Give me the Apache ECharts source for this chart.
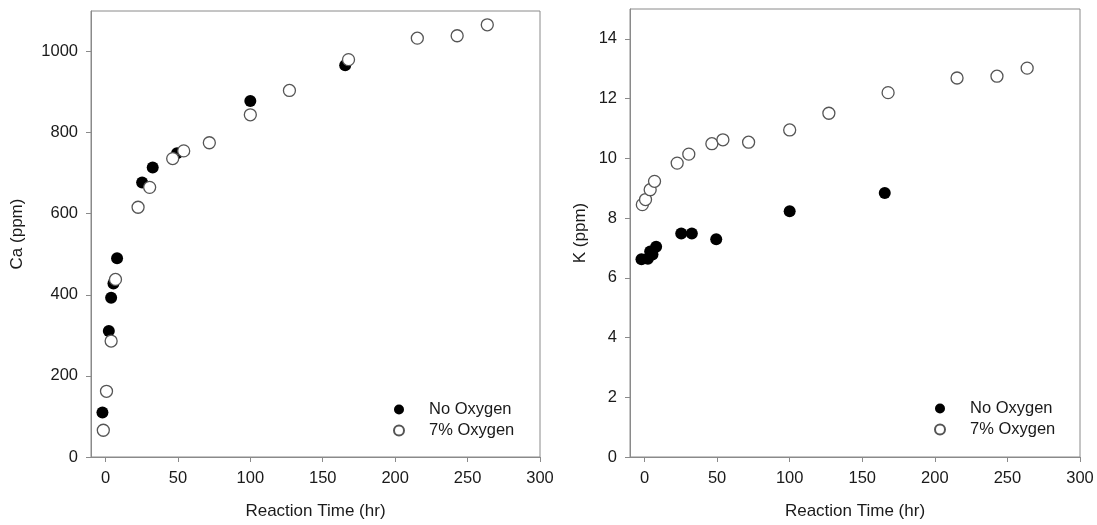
<!DOCTYPE html>
<html>
<head>
<meta charset="utf-8">
<script src="https://cdn.jsdelivr.net/npm/echarts@6/dist/echarts.min.js"></script>
<style>
  html, body { margin: 0; padding: 0; background: #fff; }
  #chart { width: 1097px; height: 525px; }
</style>
</head>
<body>
<div id="chart"></div>
<script>
// ---- data ----
const seriesNames = ['No Oxygen', '7% Oxygen'];
const timeNoO2 = [-2.1, 2.3, 3.9, 5.5, 8.0, 25.3, 32.6, 49.4, 100, 165.5];
const caNoO2 = [110, 311, 393, 428, 490, 677, 714, 749, 878, 966];
const kNoO2 = [6.62, 6.64, 6.88, 6.78, 7.04, 7.48, 7.48, 7.29, 8.23, 8.84];
const time7O2 = [-1.5, 0.7, 3.9, 6.9, 22.5, 30.5, 46.4, 54, 71.7, 100, 127, 167.8, 215.3, 242.8, 263.6];
const ca7O2 = [66, 162, 286, 438, 616, 665, 736, 755, 775, 844, 904, 980, 1033, 1039, 1066];
const k7O2 = [8.45, 8.62, 8.95, 9.23, 9.84, 10.14, 10.49, 10.62, 10.54, 10.95, 11.51, 12.2, 12.69, 12.75, 13.02];
const xTicks = [0, 50, 100, 150, 200, 250, 300];
const caTicks = [0, 200, 400, 600, 800, 1000];
const kTicks = [0, 2, 4, 6, 8, 10, 12, 14];
const xTitle = 'Reaction Time (hr)';
const caTitle = 'Ca (ppm)';
const kTitle = 'K (ppm)';

// ---- styling ----
const FONT = "'Liberation Sans', Arial, sans-serif";
const TEXT = '#1a1a1a';
const AXIS = '#8a8a8a';
const pair = (xs, ys) => xs.map((x, i) => [x, ys[i]]);
const plain = v => String(v);

function xAxis(gridIndex) {
  return {
    type: 'value', gridIndex, min: -10, max: 300,
    name: xTitle, nameLocation: 'middle', nameGap: 46,
    nameTextStyle: { fontFamily: FONT, fontSize: 17, color: TEXT },
    axisLine: { show: true, onZero: false, lineStyle: { color: AXIS, width: 1 } },
    axisTick: { show: true, inside: false, length: 5, customValues: xTicks, lineStyle: { color: AXIS } },
    axisLabel: { customValues: xTicks, formatter: plain, margin: 13, fontFamily: FONT, fontSize: 16.5, color: TEXT },
    splitLine: { show: false }
  };
}
function yAxis(gridIndex, max, ticks, title, gap) {
  return {
    type: 'value', gridIndex, min: 0, max: max,
    name: title, nameLocation: 'middle', nameGap: gap, nameRotate: 90,
    nameTextStyle: { fontFamily: FONT, fontSize: 17, color: TEXT },
    axisLine: { show: true, onZero: false, lineStyle: { color: AXIS, width: 1 } },
    axisTick: { show: true, inside: false, length: 5, customValues: ticks, lineStyle: { color: AXIS } },
    axisLabel: { customValues: ticks, formatter: plain, margin: 13, fontFamily: FONT, fontSize: 16.5, color: TEXT },
    splitLine: { show: false }
  };
}
const filledStyle = { color: '#000', borderColor: '#000', borderWidth: 0, opacity: 1 };
const openStyle = { color: '#fff', borderColor: '#555', borderWidth: 1.3, opacity: 1 };

function legend(left, top) {
  return {
    orient: 'vertical', left: left, top: top,
    itemWidth: 50, itemHeight: 10, itemGap: 4, icon: 'circle',
    data: seriesNames,
    textStyle: { fontFamily: FONT, fontSize: 16.5, color: TEXT, padding: 0 },
    selectedMode: false
  };
}

const chart = echarts.init(document.getElementById('chart'), null, { renderer: 'canvas' });
chart.setOption({
  animation: false,
  backgroundColor: '#fff',
  grid: [
    { left: 91, top: 11, width: 449, height: 449, show: true, borderColor: AXIS, borderWidth: 1, containLabel: false },
    { left: 630, top: 9, width: 450, height: 451, show: true, borderColor: AXIS, borderWidth: 1, containLabel: false }
  ],
  xAxis: [xAxis(0), xAxis(1)],
  yAxis: [yAxis(0, 1100, caTicks, caTitle, 65), yAxis(1, 15, kTicks, kTitle, 41)],
  legend: [legend(388, 396), legend(929, 395)],
  series: [
    { name: seriesNames[0], type: 'scatter', xAxisIndex: 0, yAxisIndex: 0, symbol: 'circle', symbolSize: 12,
      itemStyle: filledStyle, data: pair(timeNoO2, caNoO2), z: 2 },
    { name: seriesNames[1], type: 'scatter', xAxisIndex: 0, yAxisIndex: 0, symbol: 'circle', symbolSize: 12,
      itemStyle: openStyle, data: pair(time7O2, ca7O2), z: 3 },
    { name: seriesNames[0], type: 'scatter', xAxisIndex: 1, yAxisIndex: 1, symbol: 'circle', symbolSize: 12,
      itemStyle: filledStyle, data: pair(timeNoO2, kNoO2), z: 2 },
    { name: seriesNames[1], type: 'scatter', xAxisIndex: 1, yAxisIndex: 1, symbol: 'circle', symbolSize: 12,
      itemStyle: openStyle, data: pair(time7O2, k7O2), z: 3 }
  ]
});
</script>
</body>
</html>
